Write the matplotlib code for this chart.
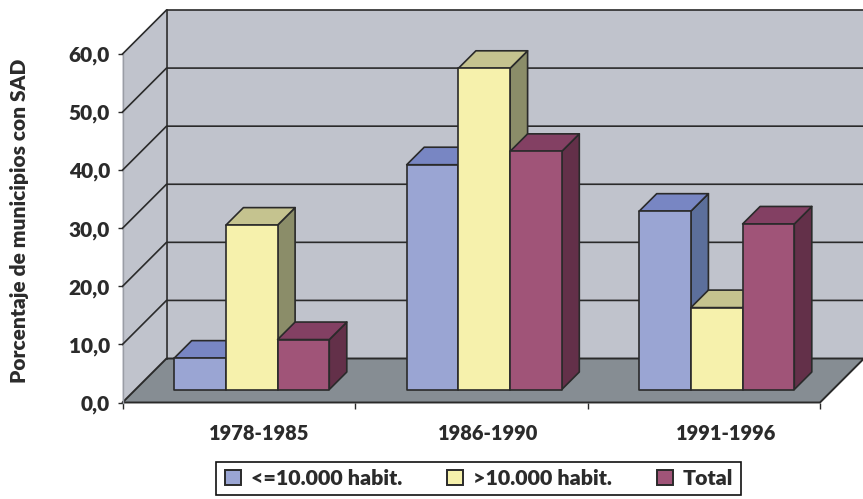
import matplotlib.pyplot as plt
from matplotlib.patches import Polygon, Patch, Rectangle

plt.rcParams['font.family'] = ['Lato', 'DejaVu Sans']
plt.rcParams['font.weight'] = 'heavy'

periodos = ["1978-1985", "1986-1990", "1991-1996"]
hasta_10000 = [5.4, 38.7, 30.7]
mas_10000 = [28.3, 55.3, 14.1]
total = [8.6, 41.0, 28.5]
y_ticks = [0, 10, 20, 30, 40, 50, 60]
y_labels = ["0,0", "10,0", "20,0", "30,0", "40,0", "50,0", "60,0"]
nombres = ["<=10.000 habit.", ">10.000 habit.", "Total"]

# colores: frente, arriba, lado
colores = [("#9AA5D3", "#7886C3", "#5C6F9B"),
           ("#F6F1AC", "#C5C38F", "#8B8D69"),
           ("#A05478", "#834063", "#633049")]
muro = "#C0C3CC"
suelo = "#868D93"
texto = "#2B2B2B"
linea = "#2A2A2A"

W, H = 863, 499
x0, x1, y0, y1 = 122.5, 820, 402.5, 54  # caja frontal en pixeles

fig = plt.figure(figsize=(W / 100, H / 100), dpi=100)
ax = fig.add_axes([x0 / W, 1 - y0 / H, (x1 - x0) / W, (y0 - y1) / H])
ax.set_xlim(0, 3)
ax.set_ylim(0, 60)
ax.patch.set_visible(False)
for s in ax.spines.values():
    s.set_visible(False)

px_x = (x1 - x0) / 3   # pixeles por categoria
px_y = (y0 - y1) / 60  # pixeles por unidad


def prof(px):
    return px / px_x, px / px_y


def poly(pts, color, z=1, lw=1.2, ec=linea):
    ax.add_patch(Polygon(pts, closed=True, fc=color, ec=ec, lw=lw, zorder=z, clip_on=False, joinstyle="round"))


# paredes y suelo
dx, dy = prof(44)
poly([(0, 0), (dx, dy), (dx, 60 + dy), (0, 60)], muro, 1, lw=0)
poly([(dx, dy), (3 + dx, dy), (3 + dx, 60 + dy), (dx, 60 + dy)], muro, 1, lw=0)
poly([(0, 0), (3, 0), (3 + dx, dy), (dx, dy)], suelo, 2, lw=1.4)
ax.plot([0, 0], [0, 60], color="#9A9DA5", lw=1, zorder=2, clip_on=False)
ax.plot([dx, dx], [dy, 60 + dy], color=linea, lw=1.2, zorder=2, clip_on=False)
for v in y_ticks[1:]:
    ax.plot([0, dx, 3 + dx], [v, v + dy, v + dy], color=linea, lw=1.2, zorder=2, clip_on=False)

# barras 3d
series = [hasta_10000, mas_10000, total]
ancho = 51.7 / px_x
bx, by = prof(13)
px, py = prof(17.5)
z = 3
for g in range(len(periodos)):
    for s, valores in enumerate(series):
        v = valores[g]
        left = g + 0.5 + (s - 1.5) * ancho + bx
        right = left + ancho
        frente, arriba, lado = colores[s]
        base = by
        top = v + by
        poly([(right, base), (right + px, base + py), (right + px, top + py), (right, top)], lado, z)
        poly([(left, top), (right, top), (right + px, top + py), (left + px, top + py)], arriba, z)
        poly([(left, base), (right, base), (right, top), (left, top)], frente, z)
        z += 1

ax.set_yticks(y_ticks)
ax.set_yticklabels(y_labels, fontsize=15, color=texto)
ax.set_xticks(range(4))
ax.set_xticklabels([])
ax.tick_params(axis="y", length=3.5, width=1, color=linea, pad=5.5)
ax.tick_params(axis="x", length=4, width=1, color=linea)

desp = [15, 12, 16]  # los rotulos no van centrados en el tramo
for i, p in enumerate(periodos):
    ax.annotate(p, (i + 0.5, 0), xytext=(desp[i], -27), textcoords="offset points", ha="center", va="baseline", fontsize=14.4, color=texto, annotation_clip=False)

fig.text(19.5 / W, 1 - 221 / H, "Porcentaje de municipios con SAD", rotation=90, ha="center", va="center", fontsize=15, color=texto)

# marco de la leyenda a mano, la leyenda sin marco
fig.add_artist(Rectangle((216 / W, 1 - 495 / H), 525 / W, 33 / H, transform=fig.transFigure, fc="white", ec="#111111", lw=1.2))
handles = [Patch(fc=c[0], ec=linea, lw=1.4) for c in colores]
fig.legend(handles, nombres, ncol=3, loc="center", bbox_to_anchor=(479 / W, 1 - 478.5 / H), frameon=False, fontsize=15.4, labelcolor=texto, handlelength=0.74, handleheight=0.74, handletextpad=0.47, columnspacing=2.1, borderpad=0, borderaxespad=0)

fig.savefig("out.png", dpi=100)
